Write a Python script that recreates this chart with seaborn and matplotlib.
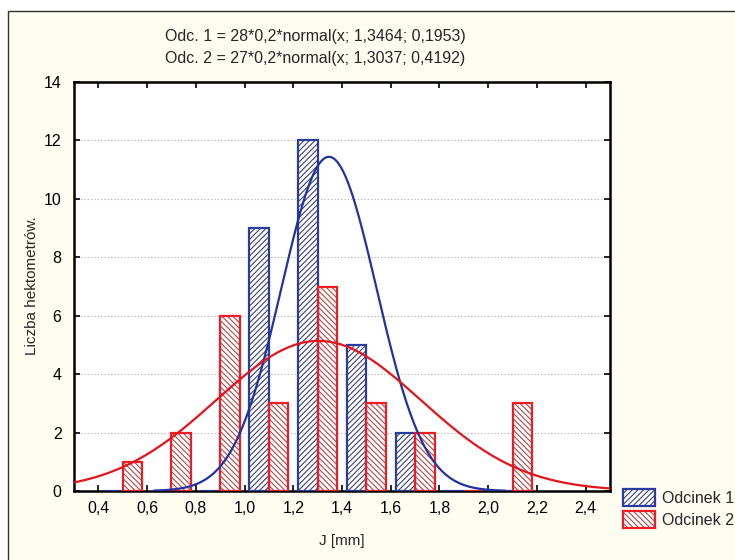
import matplotlib
matplotlib.use("Agg")
import matplotlib.pyplot as plt
import numpy as np
import pandas as pd
import seaborn as sns
from matplotlib.patches import Patch, Rectangle
from matplotlib.ticker import MultipleLocator, FuncFormatter

# bin centres (bin width 0,2) and counts
bin_centers = [0.5, 0.7, 0.9, 1.1, 1.3, 1.5, 1.7, 1.9, 2.1]
counts_odc1 = [0, 0, 0, 9, 12, 5, 2, 0, 0]
counts_odc2 = [1, 2, 6, 3, 7, 3, 2, 0, 3]

# fitted normal curves, as printed above the plot: n*0,2*normal(x; mean; sd)
n_odc1, mean_odc1, sd_odc1 = 28, 1.3464, 0.1953
n_odc2, mean_odc2, sd_odc2 = 27, 1.3037, 0.4192
curve_range_odc1 = (0.63, 2.07)
curve_range_odc2 = (0.3, 2.5)

series_names = ["Odcinek 1", "Odcinek 2"]
title_lines = ["Odc. 1 = 28*0,2*normal(x; 1,3464; 0,1953)",
               "Odc. 2 = 27*0,2*normal(x; 1,3037; 0,4192)"]

BLUE_EDGE = "#2a3c9e"
BLUE_HATCH = "#3b4270"
BLUE_LINE = "#2233a0"
RED_EDGE = "#ee1c24"
RED_HATCH = "#b04848"
RED_LINE = "#e3141c"
CREAM = "#fffcf1"
HATCH1 = "//////"
HATCH2 = "\\\\\\\\\\\\"


def normal_curve(n, mean, sd, lo, hi):
    x = np.linspace(lo, hi, 300)
    y = n * 0.2 * np.exp(-0.5 * ((x - mean) / sd) ** 2) / (sd * np.sqrt(2 * np.pi))
    return pd.DataFrame({"x": x, "y": y})


sns.set_theme(style="ticks")
plt.rcParams["font.family"] = ["Liberation Sans", "DejaVu Sans"]
plt.rcParams["hatch.linewidth"] = 0.8

fig = plt.figure(figsize=(7.35, 5.6), dpi=100)
fig.patch.set_facecolor("white")
fig.add_artist(Rectangle((8 / 735, -0.02), 1.0, 1 - 11 / 560 + 0.02,
                         transform=fig.transFigure, facecolor=CREAM,
                         edgecolor="#303030", lw=1.0, zorder=-10))

ax = fig.add_axes([74 / 735, 1 - 491 / 560, (610 - 74) / 735, (491 - 82) / 560])
ax.set_facecolor("white")

centers = np.array(bin_centers)
w = 0.08
# hatch layer, then outline layer on top
ax.bar(centers - w, counts_odc1, width=w, align="edge", color="white",
       edgecolor=BLUE_HATCH, hatch=HATCH1, lw=0, zorder=2)
ax.bar(centers - w, counts_odc1, width=w, align="edge", fill=False,
       edgecolor=BLUE_EDGE, lw=1.6, zorder=3)
ax.bar(centers, counts_odc2, width=w, align="edge", color="white",
       edgecolor=RED_HATCH, hatch=HATCH2, lw=0, zorder=2)
ax.bar(centers, counts_odc2, width=w, align="edge", fill=False,
       edgecolor=RED_EDGE, lw=1.6, zorder=3)

c1 = normal_curve(n_odc1, mean_odc1, sd_odc1, *curve_range_odc1)
c2 = normal_curve(n_odc2, mean_odc2, sd_odc2, *curve_range_odc2)
sns.lineplot(data=c1, x="x", y="y", ax=ax, color=BLUE_LINE, lw=1.6, zorder=4)
sns.lineplot(data=c2, x="x", y="y", ax=ax, color=RED_LINE, lw=1.6, zorder=4)

ax.set_xlim(0.3, 2.5)
ax.set_ylim(0, 14)
ax.yaxis.set_major_locator(MultipleLocator(2))
ax.set_xticks(np.arange(0.4, 2.41, 0.2))
ax.xaxis.set_major_formatter(FuncFormatter(lambda v, p: f"{v:.1f}".replace(".", ",")))
ax.yaxis.set_major_formatter(FuncFormatter(lambda v, p: f"{v:.0f}"))
ax.tick_params(direction="in", length=4, width=1.2, top=True, right=True,
               labelsize=11.5, colors="black", pad=7)
ax.tick_params(axis="y", pad=9)
ax.yaxis.grid(True, linestyle=(0, (1, 2)), color="#aaaaaa", lw=0.8)
ax.set_axisbelow(True)
for s in ax.spines.values():
    s.set_linewidth(1.8)
    s.set_color("black")

ax.set_xlabel("")
ax.set_ylabel("")
fig.text(342 / 735, 1 - 541 / 560, "J [mm]", fontsize=11, ha="center", va="center")
fig.text(32 / 735, 1 - 286 / 560, "Liczba hektometrów.", fontsize=11,
         rotation=90, ha="center", va="center")

fig.text(165 / 735, 1 - 37 / 560, title_lines[0], fontsize=11.5, ha="left", va="center")
fig.text(165 / 735, 1 - 59 / 560, title_lines[1], fontsize=11.5, ha="left", va="center")

handles = [
    (Patch(facecolor="white", edgecolor=BLUE_HATCH, hatch=HATCH1, lw=0),
     Patch(fill=False, edgecolor=BLUE_EDGE, lw=1.6)),
    (Patch(facecolor="white", edgecolor=RED_HATCH, hatch=HATCH2, lw=0),
     Patch(fill=False, edgecolor=RED_EDGE, lw=1.6)),
]
fig.legend(handles, series_names, loc="upper left",
           bbox_to_anchor=(620 / 735, 1 - 486 / 560), frameon=False,
           fontsize=11.5, handlelength=2.0, handleheight=1.2,
           handletextpad=0.4, labelspacing=0.35, borderaxespad=0,
           borderpad=0.2)

fig.savefig("out.png", dpi=100, facecolor=fig.get_facecolor())
